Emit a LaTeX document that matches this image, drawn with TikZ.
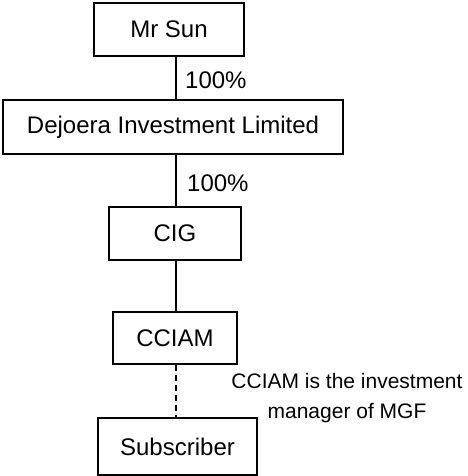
\documentclass[tikz,border=0pt]{standalone}
\usepackage{fontspec}
\setmainfont{Liberation Sans}
\begin{document}
\begin{tikzpicture}[x=1pt,y=-1pt,
  box/.style={draw,line width=1.5pt,rectangle,inner sep=0pt,font=\fontsize{24}{28}\selectfont},
  pct/.style={anchor=west,inner sep=0pt,font=\fontsize{24}{28}\selectfont},
  link/.style={line width=1.5pt},
  note/.style={align=center,inner sep=0pt,font=\fontsize{21}{30}\selectfont}]
\useasboundingbox (0,0) rectangle (467,476);
\coordinate (col) at (176,0);
\node[box,minimum width=150pt,minimum height=53pt] (sun) at (169,29.5) {Mr Sun};
\node[box,minimum width=340pt,minimum height=54pt] (dej) at (173,127) {Dejoera Investment Limited};
\node[box,minimum width=132pt,minimum height=53pt] (cig) at (175,233.5) {CIG};
\node[box,minimum width=124pt,minimum height=52pt] (cciam) at (175,338) {CCIAM};
\node[box,minimum width=159pt,minimum height=57pt] (sub) at (177.5,446.5) {Subscriber};
\draw[link] (sun.south -| col) -- (dej.north -| col);
\draw[link] (dej.south -| col) -- (cig.north -| col);
\draw[link] (cig.south -| col) -- (cciam.north -| col);
\draw[link,dash pattern=on 6pt off 4pt] (cciam.south -| col) -- (sub.north -| col);
\node[pct] (p1) at (185,80) {100\%};
\node[pct] (p2) at (187,183) {100\%};
\node[note] (n1) at (347,398) {CCIAM is the investment\\manager of MGF};
\end{tikzpicture}
\end{document}
